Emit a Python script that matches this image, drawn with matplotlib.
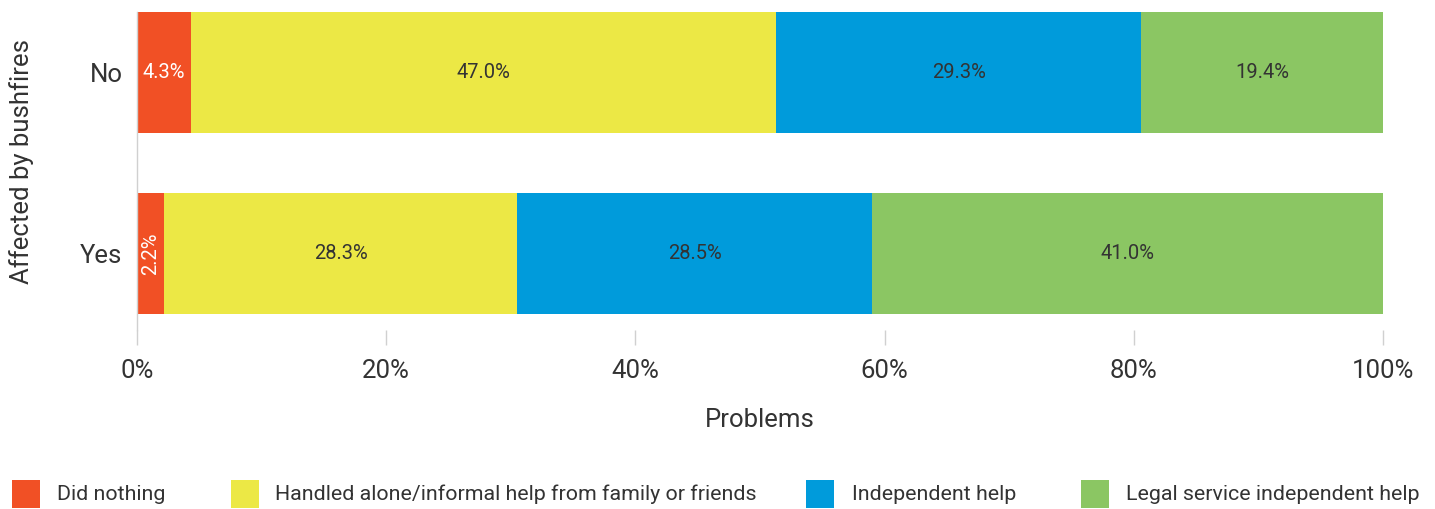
import matplotlib
matplotlib.use("Agg")
import matplotlib.pyplot as plt
from matplotlib.patches import Rectangle

categories = ["Yes", "No"]
series_names = ["Did nothing", "Handled alone/informal help from family or friends",
                "Independent help", "Legal service independent help"]
values = {
    "Did nothing": [2.2, 4.3],
    "Handled alone/informal help from family or friends": [28.3, 47.0],
    "Independent help": [28.5, 29.3],
    "Legal service independent help": [41.0, 19.4],
}
colors = ["#F15025", "#ECE845", "#009BDB", "#8BC663"]
label_colors = ["white", "#333333", "#333333", "#333333"]
xticks = [0, 20, 40, 60, 80, 100]
xticklabels = ["0%", "20%", "40%", "60%", "80%", "100%"]

plt.rcParams['font.family'] = ['Roboto', 'DejaVu Sans']
W, H = 1435, 509
fig = plt.figure(figsize=(W / 100, H / 100), dpi=100)
ax = fig.add_axes([137 / W, 1 - 330 / H, (1383 - 137) / W, (330 - 12) / H])

ypos = list(range(len(categories)))
left = [0.0] * len(categories)
for i, name in enumerate(series_names):
    vals = values[name]
    ax.barh(ypos, vals, left=left, height=0.667, color=colors[i], linewidth=0)
    for j, v in enumerate(vals):
        cx = left[j] + v / 2
        rot = 90 if v < 3 else 0
        ax.text(cx, ypos[j], f"{v:.1f}%", ha="center", va="center",
                color=label_colors[i], fontsize=14.5, rotation=rot)
    left = [l + v for l, v in zip(left, vals)]

ax.set_xlim(0, 100)
ax.set_ylim(-0.419, 1.3335)
ax.set_yticks(ypos)
ax.set_yticklabels(categories, fontsize=18.5, color="#333333")
ax.set_xticks(xticks)
ax.set_xticklabels(xticklabels, fontsize=18.5, color="#333333")
ax.tick_params(axis="y", length=0, pad=10.5)
ax.tick_params(axis="x", length=10.8, width=1, color="#D0D0D0", pad=10)
for s in ["top", "right", "bottom"]:
    ax.spines[s].set_visible(False)
ax.spines["left"].set_color("#D0D0D0")
ax.spines["left"].set_linewidth(1)

fig.text(760 / W, 1 - 420 / H, "Problems", ha="center", va="center",
         fontsize=18.5, color="#333333")
fig.text(22 / W, 1 - 162 / H, "Affected by bushfires", ha="center", va="center",
         rotation=90, fontsize=18.5, color="#333333")

# legend
sq_x = [12, 231, 806, 1081]
tx_x = [57, 275, 852, 1126]
for i, name in enumerate(series_names):
    fig.patches.append(Rectangle((sq_x[i] / W, 1 - 508 / H), 28 / W, 28 / H,
                                 transform=fig.transFigure, color=colors[i], linewidth=0))
    fig.text(tx_x[i] / W, 1 - 494 / H, name, ha="left", va="center",
             fontsize=15.4, color="#333333")

fig.savefig("out.png", dpi=100)
